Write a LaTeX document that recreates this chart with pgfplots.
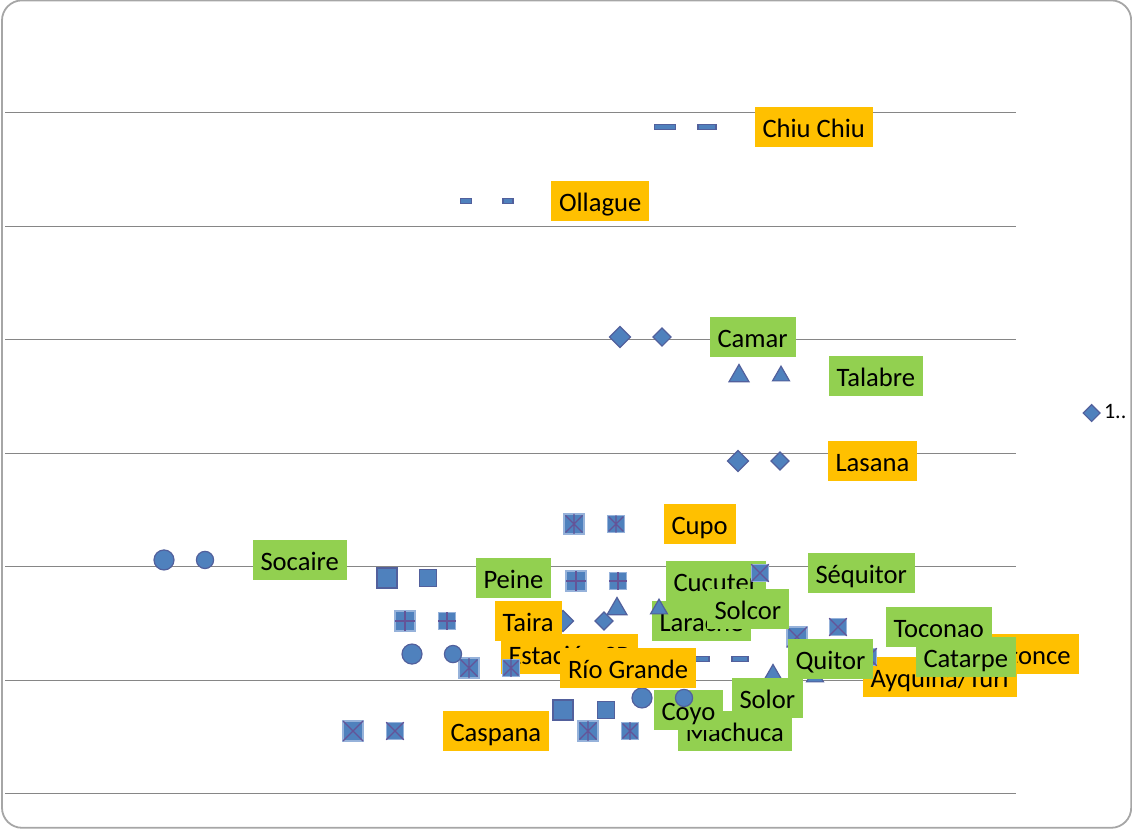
\documentclass[border=0pt]{standalone}
\usepackage{fontspec}
\setmainfont{Carlito}
\usepackage{pgfplots}
\pgfplotsset{compat=1.18}

\definecolor{mfill}{RGB}{79,129,189}
\definecolor{mline}{RGB}{82,96,156}
\definecolor{xline}{RGB}{100,84,152}
\definecolor{xedge}{RGB}{150,178,218}
\definecolor{lblorange}{RGB}{255,192,0}
\definecolor{lblgreen}{RGB}{146,208,80}
\definecolor{gridgray}{RGB}{134,134,134}
\definecolor{framegray}{RGB}{166,166,166}

% square markers with an inner cross, plus or asterisk
\pgfdeclareplotmark{xsq}{%
  \pgfsetstrokecolor{xedge}%
  \pgfpathrectangle{\pgfpoint{-\pgfplotmarksize}{-\pgfplotmarksize}}{\pgfpoint{2\pgfplotmarksize}{2\pgfplotmarksize}}%
  \pgfusepathqfillstroke
  \pgfsetstrokecolor{xline}%
  \pgfpathmoveto{\pgfpoint{-\pgfplotmarksize}{-\pgfplotmarksize}}%
  \pgfpathlineto{\pgfpoint{\pgfplotmarksize}{\pgfplotmarksize}}%
  \pgfpathmoveto{\pgfpoint{-\pgfplotmarksize}{\pgfplotmarksize}}%
  \pgfpathlineto{\pgfpoint{\pgfplotmarksize}{-\pgfplotmarksize}}%
  \pgfusepathqstroke}
\pgfdeclareplotmark{psq}{%
  \pgfsetstrokecolor{xedge}%
  \pgfpathrectangle{\pgfpoint{-\pgfplotmarksize}{-\pgfplotmarksize}}{\pgfpoint{2\pgfplotmarksize}{2\pgfplotmarksize}}%
  \pgfusepathqfillstroke
  \pgfsetstrokecolor{xline}%
  \pgfpathmoveto{\pgfpoint{-\pgfplotmarksize}{0pt}}%
  \pgfpathlineto{\pgfpoint{\pgfplotmarksize}{0pt}}%
  \pgfpathmoveto{\pgfpoint{0pt}{\pgfplotmarksize}}%
  \pgfpathlineto{\pgfpoint{0pt}{-\pgfplotmarksize}}%
  \pgfusepathqstroke}
\pgfdeclareplotmark{asq}{%
  \pgfsetstrokecolor{xedge}%
  \pgfpathrectangle{\pgfpoint{-\pgfplotmarksize}{-\pgfplotmarksize}}{\pgfpoint{2\pgfplotmarksize}{2\pgfplotmarksize}}%
  \pgfusepathqfillstroke
  \pgfsetstrokecolor{xline}%
  \pgfpathmoveto{\pgfpoint{-0.85\pgfplotmarksize}{-0.85\pgfplotmarksize}}%
  \pgfpathlineto{\pgfpoint{0.85\pgfplotmarksize}{0.85\pgfplotmarksize}}%
  \pgfpathmoveto{\pgfpoint{-0.85\pgfplotmarksize}{0.85\pgfplotmarksize}}%
  \pgfpathlineto{\pgfpoint{0.85\pgfplotmarksize}{-0.85\pgfplotmarksize}}%
  \pgfpathmoveto{\pgfpoint{0pt}{\pgfplotmarksize}}%
  \pgfpathlineto{\pgfpoint{0pt}{-\pgfplotmarksize}}%
  \pgfusepathqstroke}
% flat bar marker
\pgfdeclareplotmark{dashbar}{%
  \pgfpathrectangle{\pgfpoint{-\pgfplotmarksize}{-1.25pt}}{\pgfpoint{2\pgfplotmarksize}{2.5pt}}%
  \pgfusepathqfillstroke}

\tikzset{mo/.style={fill=mfill, draw=mline, line width=0.6pt}}
\pgfplotsset{
  pt/.style={only marks, forget plot},
  circ/.style={mark=*, mark options={mo}},
  sq/.style={mark=square*, mark options={mo}},
  dia/.style={mark=square*, mark options={mo, rotate=45}},
  tri/.style={mark=triangle*, mark options={mo}},
  xsqm/.style={mark=xsq, mark options={mo}},
  psqm/.style={mark=psq, mark options={mo}},
  asqm/.style={mark=asq, mark options={mo}},
  dsh/.style={mark=dashbar, mark options={mo}},
  lbl/.style n args={3}{nodes near coords={#2},
    every node near coord/.append style={anchor=west, xshift=#3, fill=#1,
      text=black, font=\fontsize{13.3}{15}\selectfont, inner xsep=4pt,
      inner ysep=3.75pt, text height=11.35pt, text depth=1.15pt, outer sep=0pt}},
}

\begin{document}
\begin{tikzpicture}[x=1pt,y=1pt]
\useasboundingbox (0,0) rectangle (566,414.5);
\draw[framegray, line width=0.9pt, rounded corners=10pt] (1,0.6) rectangle (565.6,414.3);
\begin{axis}[
  at={(2.5pt,17.5pt)}, anchor=south west, scale only axis,
  width=505.5pt, height=397.25pt,
  xmin=0.05, xmax=10.16, ymin=0, ymax=7,
  clip=false,
  axis line style={draw=none},
  xtick=\empty, ytick={0,1,...,6}, ymajorticks=false, major tick length=0pt,
  ymajorgrids, grid style={gridgray, line width=0.5pt},
  legend style={at={(axis description cs:1.066,0.4795)}, anchor=west,
    draw=none, fill=none, inner sep=0pt, font=\fontsize{11}{13}\selectfont},
  legend image code/.code={\draw[#1, mark size=3pt] plot coordinates {(0pt,0pt)};},
]
% data points
\addplot[only marks, dia, mark size=3.7pt] coordinates {(6.20,4.026)}; % Camar
\addlegendentry{1..}
\addplot[pt, dsh, mark size=5.25pt] coordinates {(6.65,5.877)}; % Chiu Chiu
\addplot[pt, dsh, mark size=2.75pt] coordinates {(4.66,5.225)}; % Ollague
\addplot[pt, tri, mark size=5.75pt] coordinates {(7.39,3.683)}; % Talabre
\addplot[pt, dia, mark size=3.7pt] coordinates {(7.38,2.934)}; % Lasana
\addplot[pt, asqm, mark size=5pt] coordinates {(5.74,2.379)}; % Cupo
\addplot[pt, circ, mark size=5pt] coordinates {(1.64,2.062)}; % Socaire
\addplot[pt, sq, mark size=5pt] coordinates {(3.87,1.903)}; % Peine
\addplot[pt, psqm, mark size=5pt] coordinates {(5.76,1.877)}; % Cucuter
\addplot[pt, xsqm, mark size=5pt] coordinates {(7.18,1.947)}; % Sequitor
\addplot[pt, psqm, mark size=5pt] coordinates {(4.05,1.524)}; % Taira
\addplot[pt, dia, mark size=3.7pt] coordinates {(5.63,1.524)}; % Larache
\addplot[pt, tri, mark size=5.75pt] coordinates {(6.17,1.630)}; % Solcor
\addplot[pt, xsqm, mark size=5pt] coordinates {(7.97,1.383)}; % Toconao
\addplot[pt, circ, mark size=5pt] coordinates {(4.12,1.233)}; % Estacion SP
\addplot[pt, asqm, mark size=5pt] coordinates {(4.69,1.110)}; % Rio Grande
\addplot[pt, dsh, mark size=4.5pt] coordinates {(7.00,1.189)}; % Quitor
\addplot[pt, xsqm, mark size=5pt] coordinates {(8.26,1.207)}; % Catarpe
\addplot[pt, tri, mark size=5.75pt] coordinates {(7.73,1.040)}; % Ayquina/Turi
\addplot[pt, circ, mark size=5pt] coordinates {(9.60,1.233)}; % Toconce
\addplot[pt, circ, mark size=5pt] coordinates {(6.42,0.846)}; % Solor
\addplot[pt, sq, mark size=5pt] coordinates {(5.63,0.740)}; % Coyo
\addplot[pt, xsqm, mark size=5pt] coordinates {(3.53,0.555)}; % Caspana
\addplot[pt, asqm, mark size=5pt] coordinates {(5.88,0.555)}; % Machuca
% labels with their keys
\addplot[pt, dsh, mark size=4.5pt, lbl={lblorange}{Chiu Chiu}{23.75pt}] coordinates {(7.07,5.877)};
\addplot[pt, dsh, mark size=2.5pt, lbl={lblorange}{Ollague}{21.5pt}] coordinates {(5.08,5.225)};
\addplot[pt, dia, mark size=3.2pt, lbl={lblgreen}{Camar}{23.75pt}] coordinates {(6.62,4.026)};
\addplot[pt, tri, mark size=4.9pt, lbl={lblgreen}{Talabre}{23.75pt}] coordinates {(7.81,3.683)};
\addplot[pt, dia, mark size=3.2pt, lbl={lblorange}{Lasana}{23.75pt}] coordinates {(7.80,2.934)};
\addplot[pt, asqm, mark size=4.3pt, lbl={lblorange}{Cupo}{23.75pt}] coordinates {(6.16,2.379)};
\addplot[pt, circ, mark size=4.3pt, lbl={lblgreen}{Socaire}{23.75pt}] coordinates {(2.05,2.062)};
\addplot[pt, sq, mark size=4.4pt, lbl={lblgreen}{Peine}{23.75pt}] coordinates {(4.28,1.903)};
\addplot[pt, psqm, mark size=4.4pt, lbl={lblorange}{Taira}{23.75pt}] coordinates {(4.47,1.524)};
\addplot[pt, circ, mark size=4.3pt, lbl={lblorange}{Estación SP}{23.75pt}] coordinates {(4.53,1.233)};
\addplot[pt, asqm, mark size=4.4pt, lbl={lblorange}{Río Grande}{24.5pt}] coordinates {(5.11,1.110)};
\addplot[pt, xsqm, mark size=4.4pt, lbl={lblorange}{Caspana}{23.75pt}] coordinates {(3.95,0.555)};
\addplot[pt, psqm, mark size=4.4pt, lbl={lblgreen}{Cucuter}{23.75pt}] coordinates {(6.18,1.877)};
\addplot[pt, xsqm, mark size=4.4pt, lbl={lblgreen}{Séquitor}{23.75pt}] coordinates {(7.60,1.947)};
\addplot[pt, dia, mark size=3.2pt, lbl={lblgreen}{Larache}{23.75pt}] coordinates {(6.04,1.524)};
\addplot[pt, tri, mark size=4.9pt, lbl={lblgreen}{Solcor}{23.75pt}] coordinates {(6.59,1.630)};
\addplot[pt, circ, mark size=4.3pt, lbl={lblorange}{Toconce}{23.75pt}] coordinates {(9.27,1.233)};
\addplot[pt, xsqm, mark size=4.4pt, lbl={lblgreen}{Toconao}{23.75pt}] coordinates {(8.38,1.471)};
\addplot[pt, tri, mark size=4.9pt, lbl={lblorange}{Ayquina/Turi}{23.75pt}] coordinates {(8.15,1.031)};
\addplot[pt, xsqm, mark size=4.4pt, lbl={lblgreen}{Catarpe}{23.75pt}] coordinates {(8.68,1.207)};
\addplot[pt, dsh, mark size=4pt, lbl={lblgreen}{Quitor}{23.75pt}] coordinates {(7.40,1.189)};
\addplot[pt, asqm, mark size=4.4pt, lbl={lblgreen}{Machuca}{23.75pt}] coordinates {(6.30,0.555)};
\addplot[pt, sq, mark size=4.4pt, lbl={lblgreen}{Coyo}{23.75pt}] coordinates {(6.06,0.740)};
\addplot[pt, circ, mark size=4.3pt, lbl={lblgreen}{Solor}{23.75pt}] coordinates {(6.84,0.846)};
\end{axis}
\end{tikzpicture}
\end{document}
